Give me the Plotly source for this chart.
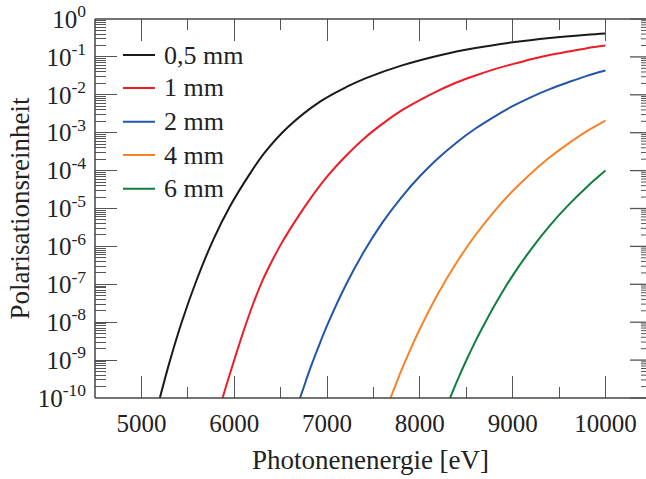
import math
import plotly.graph_objects as go

# ---- data (photon energy in eV, log10 of polarisation purity) ----
labels = ["0,5 mm", "1 mm", "2 mm", "4 mm", "6 mm"]
colors = ["#1a1a1a", "#ee1c25", "#2156a8", "#f7822a", "#0f7f3d"]

e_05 = [5190, 5300, 5434, 5596, 5775, 5955, 6170, 6330, 6580, 6925, 7221, 7420, 7800, 8218, 8600, 9000, 9400, 9800, 10000]
l_05 = [-10.08, -9.08, -8.00, -6.88, -5.82, -4.94, -4.08, -3.52, -2.85, -2.18, -1.78, -1.56, -1.23, -0.955, -0.766, -0.615, -0.50, -0.414, -0.38]

e_1 = [5870, 5900, 6000, 6100, 6200, 6300, 6400, 6500, 6600, 6800, 7000, 7200, 7400, 7600, 7800, 8000, 8200, 8400, 8600, 8800, 9000, 9200, 9400, 9600, 9800, 10000]
l_1 = [-10.04, -9.79, -9.00, -8.24, -7.54, -6.93, -6.42, -5.96, -5.55, -4.81, -4.16, -3.62, -3.15, -2.76, -2.42, -2.14, -1.89, -1.67, -1.49, -1.33, -1.19, -1.06, -0.95, -0.86, -0.77, -0.70]

e_2 = [6700, 6750, 6800, 6900, 7000, 7200, 7400, 7600, 7800, 8000, 8200, 8400, 8600, 8800, 9000, 9200, 9400, 9600, 9800, 10000]
l_2 = [-10.07, -9.71, -9.35, -8.70, -8.09, -7.03, -6.13, -5.36, -4.71, -4.15, -3.67, -3.25, -2.89, -2.58, -2.30, -2.06, -1.85, -1.67, -1.50, -1.36]

e_4 = [7680, 7800, 7900, 8000, 8200, 8400, 8600, 8800, 9000, 9200, 9400, 9600, 9800, 10000]
l_4 = [-10.03, -9.28, -8.71, -8.18, -7.23, -6.41, -5.70, -5.08, -4.54, -4.07, -3.65, -3.29, -2.96, -2.68]

e_6 = [8320, 8400, 8500, 8600, 8700, 8800, 9000, 9200, 9400, 9600, 9800, 10000]
l_6 = [-10.03, -9.56, -9.01, -8.50, -8.03, -7.58, -6.77, -6.07, -5.45, -4.91, -4.43, -4.00]

energies = [e_05, e_1, e_2, e_4, e_6]
logvals = [l_05, l_1, l_2, l_4, l_6]

x_ticks = [5000, 6000, 7000, 8000, 9000, 10000]
x_minor = [5500, 6500, 7500, 8500, 9500]
y_exps = list(range(0, -11, -1))
y_ticks = [10.0 ** k for k in y_exps]
y_ticktext = ["10<sup>%d</sup>" % k for k in y_exps]
y_minor = [m * 10.0 ** k for k in range(-10, 0) for m in range(2, 10)]

FONT = "Liberation Serif, Times New Roman, serif"
AX = "#444444"
TICK = "#555555"
TXT = "#222222"

fig = go.Figure()
for lab, col, ex, lv in zip(labels, colors, energies, logvals):
    fig.add_trace(go.Scatter(
        x=ex, y=[10.0 ** v for v in lv], mode="lines", name=lab,
        line=dict(color=col, width=2, shape="spline", smoothing=1.0),
        showlegend=False,
    ))

# frame: left, bottom and top edges (right edge lies just outside the picture)
for x0, y0, x1, y1 in [(0, 0, 0, 1), (0, 0, 1, 0), (0, 1, 1, 1)]:
    fig.add_shape(type="line", xref="paper", yref="paper", x0=x0, y0=y0, x1=x1, y1=y1,
                  line=dict(color=AX, width=1.5), layer="above")

# right-hand ticks of the (cropped) right frame edge
RIGHT = 1.0109
for v in y_ticks:
    py = (math.log10(v) + 10) / 10
    fig.add_shape(type="line", xref="paper", yref="paper", x0=RIGHT - 22 / 551, x1=RIGHT, y0=py, y1=py,
                  line=dict(color=TICK, width=1.3))
for v in y_minor:
    py = (math.log10(v) + 10) / 10
    fig.add_shape(type="line", xref="paper", yref="paper", x0=RIGHT - 11 / 551, x1=RIGHT, y0=py, y1=py,
                  line=dict(color=TICK, width=1))

# legend (inside the plot, upper left)
leg_y = [0.905, 0.818, 0.729, 0.641, 0.552]
for lab, col, yy in zip(labels, colors, leg_y):
    fig.add_shape(type="line", xref="paper", yref="paper", x0=0.0508, x1=0.1089, y0=yy, y1=yy,
                  line=dict(color=col, width=2))
    fig.add_annotation(xref="paper", yref="paper", x=0.1216, y=yy, text=lab, showarrow=False,
                       xanchor="left", yanchor="middle",
                       font=dict(family=FONT, size=26, color=TXT))

fig.update_layout(
    width=646, height=479,
    margin=dict(l=95, r=0, t=19, b=81),
    paper_bgcolor="white", plot_bgcolor="white",
    font=dict(family=FONT, size=25, color=TXT),
    showlegend=False,
)

fig.update_xaxes(
    range=[4500, 10437], showgrid=False, zeroline=False,
    showline=False, mirror="ticks",
    ticks="inside", ticklen=22, tickwidth=1.3, tickcolor=TICK,
    tickmode="array", tickvals=x_ticks, ticktext=[str(v) for v in x_ticks],
    tickfont=dict(family=FONT, size=25, color=TXT), ticklabelstandoff=8,
    minor=dict(tickmode="array", tickvals=x_minor, ticks="inside", ticklen=11, tickwidth=1.3, tickcolor=TICK),
    title=dict(text="Photonenenergie [eV]", font=dict(family=FONT, size=27, color=TXT), standoff=14),
)
fig.update_yaxes(
    type="log", range=[-10, 0], showgrid=False, zeroline=False,
    showline=False, mirror=False,
    ticks="inside", ticklen=22, tickwidth=1.3, tickcolor=TICK,
    tickmode="array", tickvals=y_ticks, ticktext=y_ticktext,
    tickfont=dict(family=FONT, size=25, color=TXT), ticklabelstandoff=8,
    minor=dict(tickmode="array", tickvals=y_minor, ticks="inside", ticklen=11, tickwidth=1, tickcolor=TICK),
    title=dict(text="Polarisationsreinheit", font=dict(family=FONT, size=27, color=TXT), standoff=0),
)

fig.write_html("out.html")
